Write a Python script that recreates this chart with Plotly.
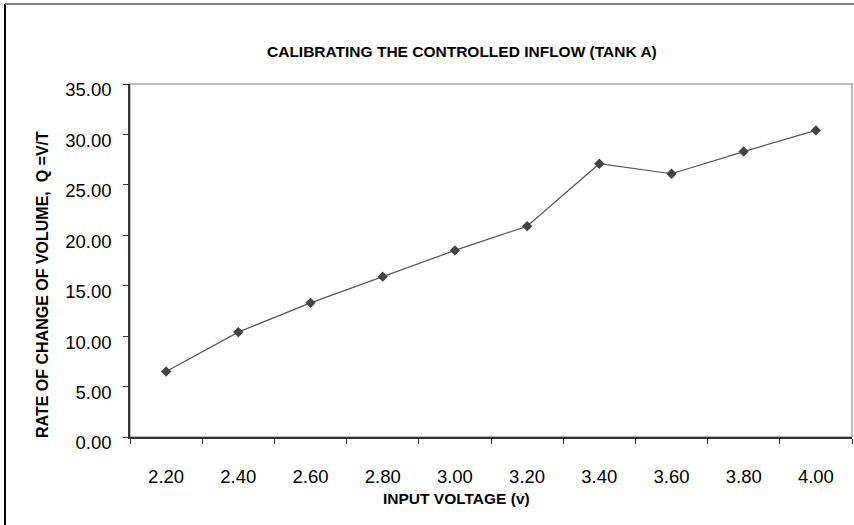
import plotly.graph_objects as go

voltages = ["2.20", "2.40", "2.60", "2.80", "3.00", "3.20", "3.40", "3.60", "3.80", "4.00"]
flow_q = [6.5, 10.4, 13.3, 15.9, 18.5, 20.9, 27.1, 26.1, 28.3, 30.4]
y_ticks = [0, 5, 10, 15, 20, 25, 30, 35]

W, H = 854, 525
L, R, T, B = 130, 2, 84, 88
pw = W - L - R
ph = H - T - B

def px2x(px):
    return (px - L) / pw

def py2y(py):
    return (H - B - py) / ph

fig = go.Figure()
fig.add_trace(go.Scatter(
    x=voltages, y=flow_q, mode="lines+markers",
    line=dict(color="#555555", width=1.2),
    marker=dict(symbol="diamond", size=8, color="#444444"),
    showlegend=False, cliponaxis=False,
))

font = "Liberation Sans, Arial, sans-serif"

fig.update_layout(
    width=W, height=H,
    margin=dict(l=L, r=R, t=T, b=B),
    paper_bgcolor="white", plot_bgcolor="white",
    font=dict(family=font, color="#000000"),
    xaxis=dict(
        type="category", range=[-0.5, 9.5], tickson="boundaries",
        ticks="outside", ticklen=5, tickcolor="#333333", tickwidth=1,
        showline=True, linecolor="#333333", linewidth=1.5,
        showgrid=False, zeroline=False,
        tickfont=dict(size=18.5, family=font), ticklabelstandoff=22,
    ),
    yaxis=dict(
        range=[0, 35], tickvals=y_ticks, ticktext=[f"{v:.2f}" for v in y_ticks],
        ticks="outside", ticklen=5, tickcolor="#333333", tickwidth=1,
        showline=True, linecolor="#333333", linewidth=1.5,
        showgrid=False, zeroline=False,
        tickfont=dict(size=18.5, family=font), ticklabelstandoff=8,
        ticklabelshift=6,
    ),
    shapes=[
        dict(type="rect", xref="paper", yref="paper", x0=0, x1=1, y0=0, y1=1,
             line=dict(color="#a6a6a6", width=1.5), layer="below"),
        dict(type="line", xref="paper", yref="paper",
             x0=px2x(5), x1=px2x(5), y0=py2y(4), y1=py2y(530),
             line=dict(color="#000000", width=2)),
        dict(type="line", xref="paper", yref="paper",
             x0=px2x(5), x1=px2x(860), y0=py2y(4), y1=py2y(4),
             line=dict(color="#808080", width=2)),
    ],
    annotations=[
        dict(text="<b>CALIBRATING THE CONTROLLED INFLOW (TANK A)</b>",
             xref="paper", yref="paper", x=px2x(462), y=py2y(51.5),
             xanchor="center", yanchor="middle", showarrow=False,
             font=dict(size=15.5, family=font)),
        dict(text="<b>INPUT VOLTAGE (v)</b>",
             xref="paper", yref="paper", x=px2x(456), y=py2y(498),
             xanchor="center", yanchor="middle", showarrow=False,
             font=dict(size=15.5, family=font)),
        dict(text="<b>RATE OF CHANGE OF VOLUME,\u00a0 Q =V/T</b>",
             xref="paper", yref="paper", x=px2x(42), y=py2y(285),
             xanchor="center", yanchor="middle", showarrow=False, textangle=-90,
             font=dict(size=16, family=font)),
    ],
)

fig.write_html("out.html")
